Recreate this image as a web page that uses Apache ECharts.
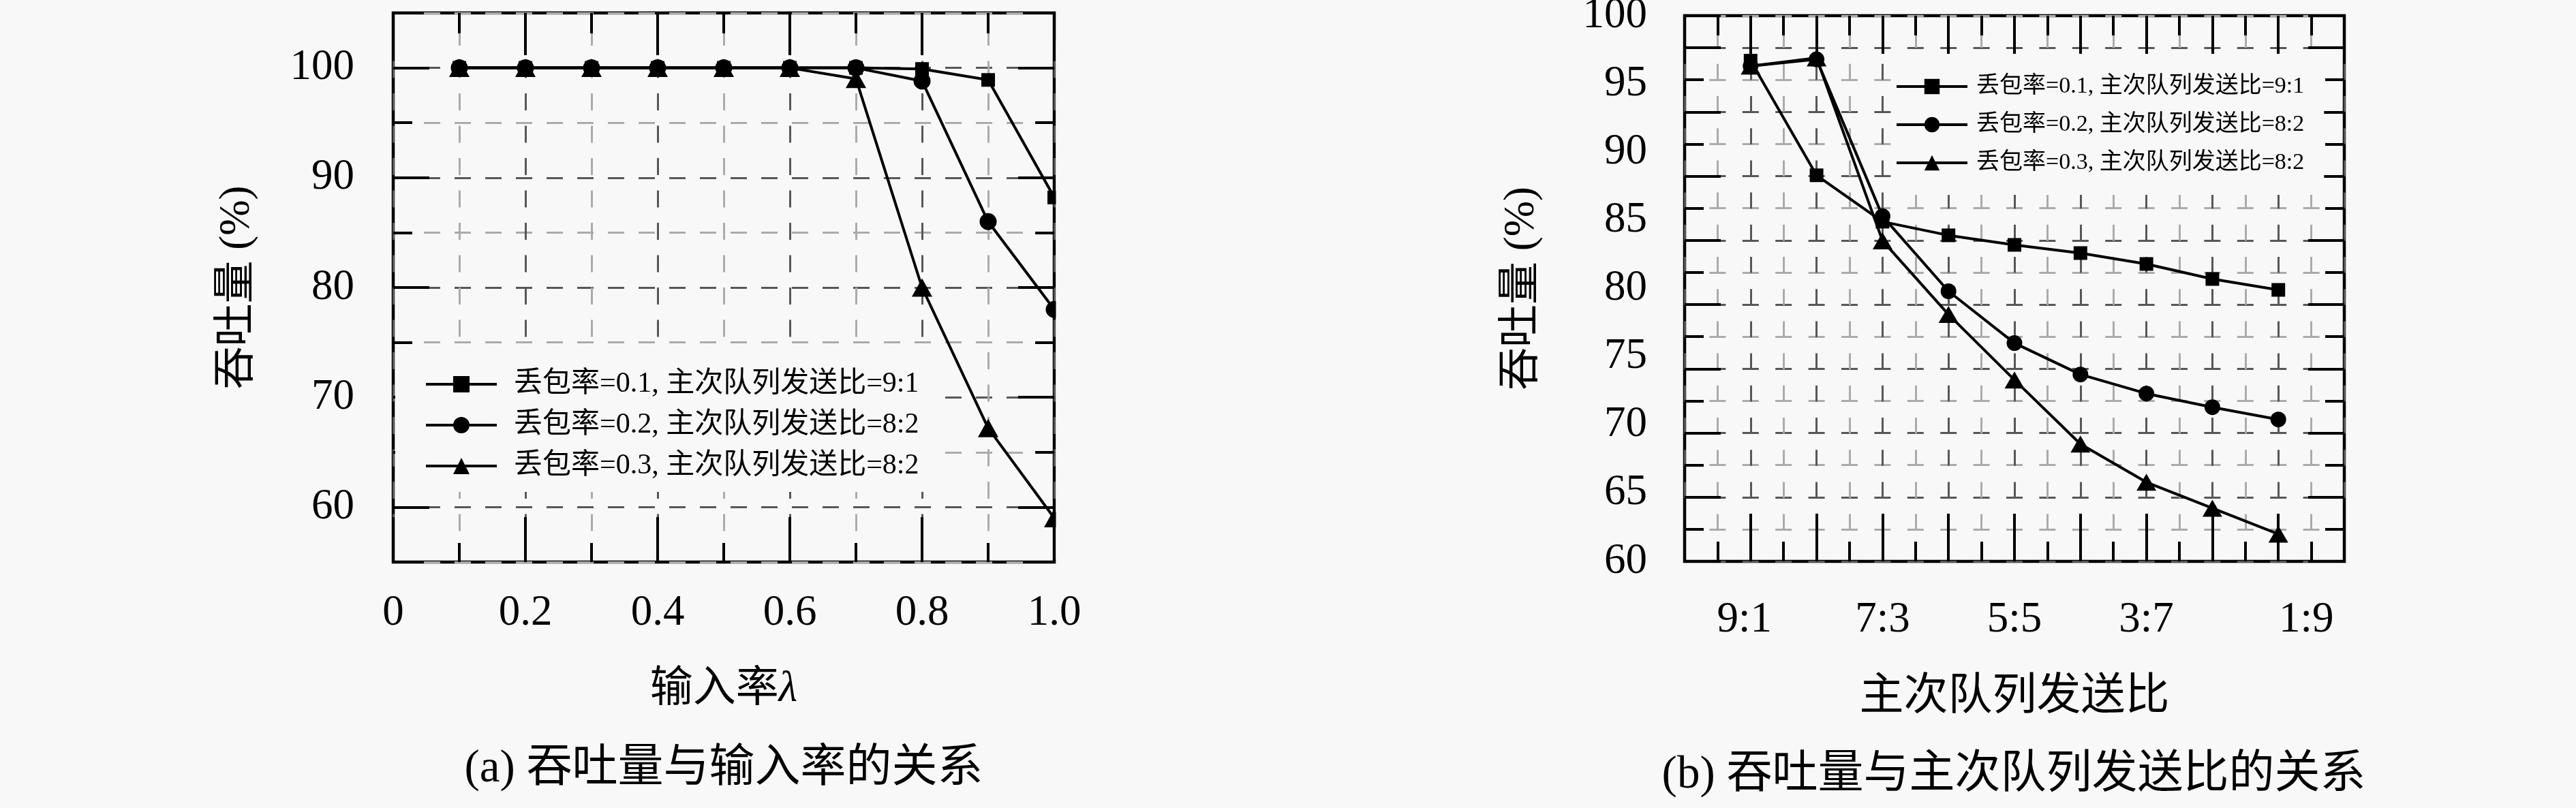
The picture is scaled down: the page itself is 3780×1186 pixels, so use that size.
<!DOCTYPE html>
<html lang="zh">
<head>
<meta charset="UTF-8">
<title>吞吐量</title>
<script src="https://cdn.jsdelivr.net/npm/echarts@6/dist/echarts.min.js"></script>
<style>
    html, body { margin: 0; padding: 0; background: #f8f8f8; }
    #main { width: 3780px; height: 1186px; }
</style>
</head>
<body>
<div id="main"></div>
<script>
// (a) 吞吐量与输入率
var rateX = [0.1, 0.2, 0.3, 0.4, 0.5, 0.6, 0.7, 0.8, 0.9, 1.0];
var rateLoss1 = [100, 100, 100, 100, 100, 100, 100, 99.9, 98.9, 88.2];
var rateLoss2 = [100, 100, 100, 100, 100, 100, 100, 98.8, 86.0, 78.0];
var rateLoss3 = [100, 100, 100, 100, 100, 100, 99.0, 80.0, 67.2, 59.0];
var rateMajorY = [60, 70, 80, 90, 100];

// (b) 吞吐量与主次队列发送比
var ratioNames = ['9:1', '8:2', '7:3', '6:4', '5:5', '4:6', '3:7', '2:8', '1:9'];
var ratioLoss1 = [96.7, 88.3, 84.9, 83.9, 83.2, 82.6, 81.8, 80.7, 79.9];
var ratioLoss2 = [96.3, 96.8, 85.3, 79.8, 76.0, 73.7, 72.3, 71.3, 70.4];
var ratioLoss3 = [96.3, 96.9, 83.5, 78.1, 73.3, 68.6, 65.8, 63.9, 62.0];

var legendNames = [
    '丢包率=0.1, 主次队列发送比=9:1',
    '丢包率=0.2, 主次队列发送比=8:2',
    '丢包率=0.3, 主次队列发送比=8:2'
];

var BG = '#f8f8f8';
var DARK = '#575757', LIGHT = '#ababab';
var FONT = "'Liberation Serif', 'Noto Sans CJK SC', serif";

function pairs(xs, ys) {
    return ys.map(function (y, i) { return [xs[i], y]; });
}
var ratioX = ratioNames.map(function (n, i) { return i + 1; });

function ticks(len, custom) {
    var t = { show: true, inside: true, length: len, lineStyle: { color: '#000', width: 4 } };
    if (custom) t.customValues = custom;
    return t;
}
// axes only for ticks: no line, no label, no grid
function tickAxis(grid, pos, min, max, interval, len, custom) {
    return {
        type: 'value', gridIndex: grid, position: pos, min: min, max: max, interval: interval,
        axisLine: { show: false, onZero: false }, axisTick: ticks(len, custom),
        axisLabel: { show: false }, splitLine: { show: false }
    };
}
function nameStyle(size) {
    return { fontSize: size, lineHeight: size, color: '#000', fontFamily: FONT,
        rich: { i: { fontSize: size, fontStyle: 'italic', fontFamily: FONT, color: '#000' } } };
}
function lineSeries(name, symbol, size, xi, yi, data) {
    return {
        name: name, type: 'line', xAxisIndex: xi, yAxisIndex: yi, data: data,
        symbol: symbol, symbolSize: size, clip: false, silent: true,
        lineStyle: { color: '#000', width: 4 },
        itemStyle: { color: '#000', borderWidth: 0 }
    };
}

var chart = echarts.init(document.getElementById('main'));
chart.setOption({
    backgroundColor: BG,
    animation: false,
    grid: [
        { left: 577, top: 19, width: 970, height: 806, show: true, borderColor: '#000', borderWidth: 4.5, backgroundColor: 'transparent', outerBoundsMode: 'none' },
        { left: 2472, top: 23, width: 968, height: 801, show: true, borderColor: '#000', borderWidth: 4.5, backgroundColor: 'transparent', outerBoundsMode: 'none' }
    ],
    xAxis: [
        {
            type: 'value', gridIndex: 0, position: 'bottom', min: 0, max: 1, interval: 0.1,
            axisLine: { show: false, onZero: false }, axisTick: ticks(28),
            axisLabel: {
                margin: 44, fontSize: 63, lineHeight: 63, color: '#000', fontFamily: FONT,
                showMinLabel: true, showMaxLabel: true,
                formatter: function (v) {
                    var k = Math.round(v * 10);
                    if (k % 2) return '';
                    return k === 0 ? '0' : (k / 10).toFixed(1);
                }
            },
            splitLine: { show: true, lineStyle: { color: [DARK, LIGHT], width: 3, type: [25, 22.5], dashOffset: 24.5 } },
            name: '输入率{i|λ}', nameLocation: 'middle', nameGap: 156, nameTextStyle: nameStyle(63)
        },
        tickAxis(0, 'bottom', 0, 1, 0.2, 66),
        tickAxis(0, 'top', 0, 1, 0.1, 30),
        tickAxis(0, 'top', 0, 1, 0.2, 62),
        {
            type: 'value', gridIndex: 1, position: 'bottom', min: 0, max: 10, interval: 0.5,
            axisLine: { show: false, onZero: false }, axisTick: ticks(29),
            axisLabel: {
                margin: 55, fontSize: 63, lineHeight: 63, color: '#000', fontFamily: FONT,
                formatter: function (v) {
                    var k = Math.round(v * 2);
                    if (k % 4 !== 2) return '';
                    var n = ratioNames[k / 2 - 1];
                    if (n === '1:9') return '{r|' + n + '}';
                    if (n === '9:1') return '{l|' + n + '}';
                    return n;
                },
                rich: {
                    r: { padding: [0, 0, 0, 82], fontSize: 63, fontFamily: FONT, color: '#000' },
                    l: { padding: [0, 18, 0, 0], fontSize: 63, fontFamily: FONT, color: '#000' }
                }
            },
            splitLine: { show: true, lineStyle: { color: [DARK, LIGHT], width: 3, type: [23.6, 23.6], dashOffset: 23.6 } },
            name: '主次队列发送比', nameLocation: 'middle', nameGap: 167, nameTextStyle: nameStyle(65)
        },
        tickAxis(1, 'bottom', 0, 10, 1, 70),
        tickAxis(1, 'top', 0, 10, 0.5, 29),
        tickAxis(1, 'top', 0, 10, 1, 56)
    ],
    yAxis: [
        {
            type: 'value', gridIndex: 0, position: 'left', min: 55, max: 105, interval: 5,
            axisLine: { show: false, onZero: false }, axisTick: ticks(28),
            axisLabel: {
                margin: 57, fontSize: 63, color: '#000', fontFamily: FONT,
                formatter: function (v) { return v % 10 === 0 ? String(v) : ''; }
            },
            splitLine: { show: true, lineStyle: { color: [LIGHT, DARK], width: 3, type: [24, 21], dashOffset: 0 } },
            name: '吞吐量 (%)', nameLocation: 'middle', nameGap: 197, nameTextStyle: nameStyle(63)
        },
        tickAxis(0, 'left', 55, 105, 5, 53, rateMajorY),
        tickAxis(0, 'right', 55, 105, 5, 28),
        tickAxis(0, 'right', 55, 105, 5, 53, rateMajorY),
        {
            type: 'value', gridIndex: 1, position: 'left', min: 60, max: 100, interval: 5,
            axisLine: { show: false, onZero: false }, axisTick: { show: false }, splitLine: { show: false },
            axisLabel: { margin: 55, fontSize: 63, lineHeight: 63, padding: [12, 0, 0, 0], color: '#000', fontFamily: FONT },
            name: '吞吐量 (%)', nameLocation: 'middle', nameGap: 207, nameTextStyle: nameStyle(63)
        },
        {
            type: 'value', gridIndex: 1, position: 'left', min: 60, max: 102.5, interval: 2.5,
            axisLine: { show: false, onZero: false }, axisTick: ticks(28), axisLabel: { show: false },
            splitLine: { show: true, lineStyle: { color: [DARK, LIGHT], width: 3, type: [24, 24.4], dashOffset: 12 } }
        },
        tickAxis(1, 'left', 60, 102.5, 5, 53),
        tickAxis(1, 'right', 60, 102.5, 2.5, 28),
        tickAxis(1, 'right', 60, 102.5, 5, 53)
    ],
    legend: [
        {
            data: legendNames, orient: 'vertical', left: 580, top: 505, padding: [38, 25, 17, 43],
            backgroundColor: BG, itemWidth: 104, itemHeight: 30, itemGap: 18, selectedMode: false,
            lineStyle: { width: 4 },
            textStyle: { fontSize: 42, lineHeight: 42, color: '#000', fontFamily: FONT, padding: [0, 0, 0, 20] }
        },
        {
            data: legendNames, orient: 'vertical', left: 2776, top: 90, padding: [20, 29, 30, 5],
            backgroundColor: BG, itemWidth: 104, itemHeight: 28, itemGap: 22, selectedMode: false,
            lineStyle: { width: 4 },
            textStyle: { fontSize: 34, lineHeight: 34, color: '#000', fontFamily: FONT, padding: [0, 0, 0, 8] }
        }
    ],
    graphic: [
        // hides the right half of the markers sitting on the right border at 1.0
        { type: 'rect', z: 100, shape: { x: 1549.5, y: 60, width: 60, height: 760 }, style: { fill: BG } },
        { type: 'text', x: 1062, y: 1129, style: { text: '(a) 吞吐量与输入率的关系', fontSize: 67, fontFamily: FONT, fill: '#000', align: 'center', verticalAlign: 'middle' } },
        { type: 'text', x: 2955, y: 1138, style: { text: '(b) 吞吐量与主次队列发送比的关系', fontSize: 67, fontFamily: FONT, fill: '#000', align: 'center', verticalAlign: 'middle' } }
    ],
    series: [
        lineSeries(legendNames[0], 'rect', 20, 0, 0, pairs(rateX, rateLoss1)),
        lineSeries(legendNames[1], 'circle', 25, 0, 0, pairs(rateX, rateLoss2)),
        lineSeries(legendNames[2], 'triangle', [30, 27], 0, 0, pairs(rateX, rateLoss3)),
        lineSeries(legendNames[0], 'rect', 20, 4, 4, pairs(ratioX, ratioLoss1)),
        lineSeries(legendNames[1], 'circle', 23, 4, 4, pairs(ratioX, ratioLoss2)),
        lineSeries(legendNames[2], 'triangle', [29, 25], 4, 4, pairs(ratioX, ratioLoss3))
    ]
});
</script>
</body>
</html>
